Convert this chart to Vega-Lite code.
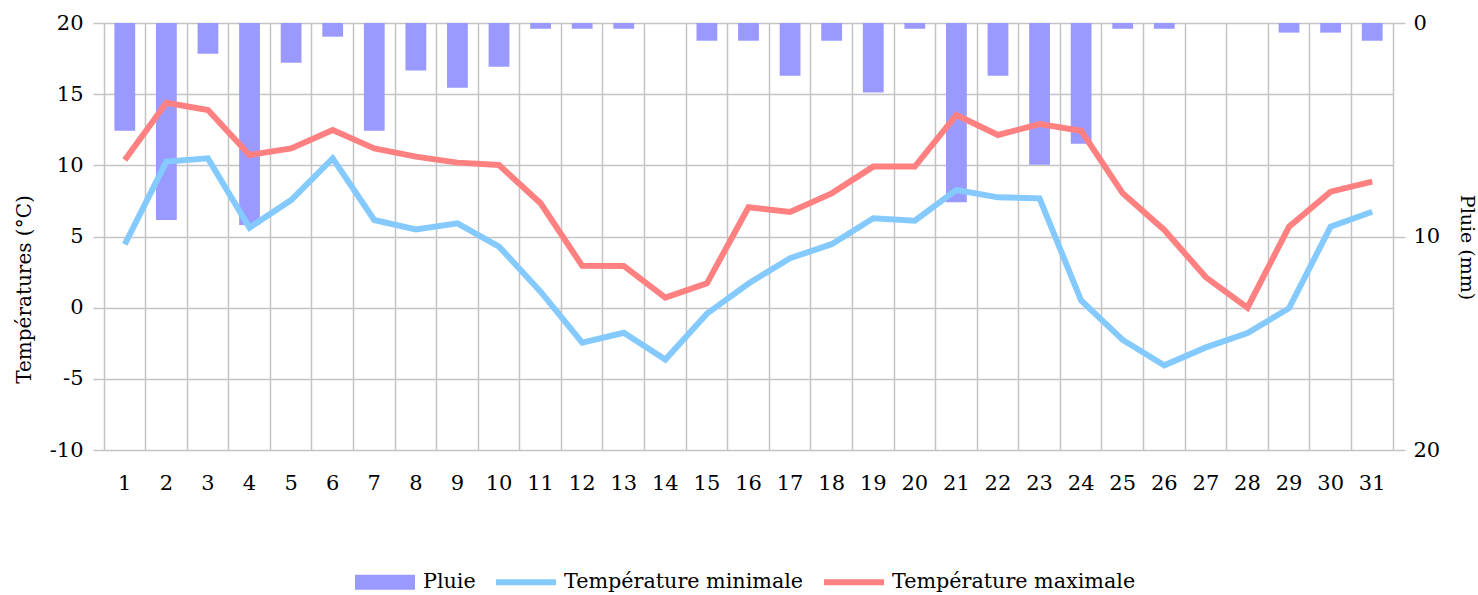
{
  "$schema": "https://vega.github.io/schema/vega-lite/v6.json",
  "width": 1289,
  "height": 427,
  "autosize": {"type": "none"},
  "padding": {"left": 104, "top": 23, "right": 85, "bottom": 145},
  "background": "white",
  "config": {
    "font": "DejaVu Serif",
    "view": {"stroke": null},
    "axis": {"labelColor": "black", "titleColor": "black", "titleFontWeight": "normal", "labelFont": "DejaVu Serif", "titleFont": "DejaVu Serif"},
    "legend": {"labelFont": "DejaVu Serif"}
  },
  "data": {
    "values": [
      {"day": 1, "pluie": 5.05, "tmin": 4.45, "tmax": 10.37},
      {"day": 2, "pluie": 9.23, "tmin": 10.26, "tmax": 14.4},
      {"day": 3, "pluie": 1.44, "tmin": 10.49, "tmax": 13.89},
      {"day": 4, "pluie": 9.46, "tmin": 5.62, "tmax": 10.73},
      {"day": 5, "pluie": 1.86, "tmin": 7.56, "tmax": 11.19},
      {"day": 6, "pluie": 0.64, "tmin": 10.49, "tmax": 12.48},
      {"day": 7, "pluie": 5.05, "tmin": 6.16, "tmax": 11.19},
      {"day": 8, "pluie": 2.23, "tmin": 5.5, "tmax": 10.61},
      {"day": 9, "pluie": 3.03, "tmin": 5.93, "tmax": 10.19},
      {"day": 10, "pluie": 2.05, "tmin": 4.29, "tmax": 10.02},
      {"day": 11, "pluie": 0.27, "tmin": 1.12, "tmax": 7.33},
      {"day": 12, "pluie": 0.27, "tmin": -2.46, "tmax": 2.94},
      {"day": 13, "pluie": 0.27, "tmin": -1.76, "tmax": 2.93},
      {"day": 14, "pluie": 0, "tmin": -3.65, "tmax": 0.7},
      {"day": 15, "pluie": 0.83, "tmin": -0.42, "tmax": 1.71},
      {"day": 16, "pluie": 0.83, "tmin": 1.7, "tmax": 7.05},
      {"day": 17, "pluie": 2.47, "tmin": 3.48, "tmax": 6.72},
      {"day": 18, "pluie": 0.83, "tmin": 4.46, "tmax": 8.03},
      {"day": 19, "pluie": 3.26, "tmin": 6.28, "tmax": 9.91},
      {"day": 20, "pluie": 0.27, "tmin": 6.11, "tmax": 9.91},
      {"day": 21, "pluie": 8.4, "tmin": 8.27, "tmax": 13.54},
      {"day": 22, "pluie": 2.47, "tmin": 7.75, "tmax": 12.13},
      {"day": 23, "pluie": 6.64, "tmin": 7.68, "tmax": 12.9},
      {"day": 24, "pluie": 5.65, "tmin": 0.5, "tmax": 12.43},
      {"day": 25, "pluie": 0.27, "tmin": -2.27, "tmax": 8.03},
      {"day": 26, "pluie": 0.27, "tmin": -4.05, "tmax": 5.46},
      {"day": 27, "pluie": 0, "tmin": -2.79, "tmax": 2.13},
      {"day": 28, "pluie": 0, "tmin": -1.78, "tmax": 0},
      {"day": 29, "pluie": 0.45, "tmin": -0.04, "tmax": 5.69},
      {"day": 30, "pluie": 0.45, "tmin": 5.69, "tmax": 8.15},
      {"day": 31, "pluie": 0.83, "tmin": 6.74, "tmax": 8.85}
    ]
  },
  "encoding": {
    "x": {
      "field": "day",
      "type": "ordinal",
      "scale": {"paddingInner": 0, "paddingOuter": 0},
      "axis": {
        "title": null,
        "labelAngle": 0,
        "labelFontSize": 21,
        "labelPadding": 33,
        "labelBaseline": "middle",
        "ticks": false,
        "domain": false,
        "grid": true,
        "bandPosition": 0,
        "gridColor": "#c4c4c4",
        "gridWidth": 1.5
      }
    }
  },
  "layer": [
    {
      "mark": {"type": "bar", "width": {"band": 0.5}},
      "encoding": {
        "y": {
          "field": "pluie",
          "type": "quantitative",
          "scale": {"domain": [0, 20], "reverse": true, "nice": false, "zero": true},
          "axis": {
            "orient": "right",
            "title": "Pluie (mm)",
            "values": [0, 10, 20],
            "grid": false,
            "domain": true,
            "domainColor": "#c4c4c4",
            "domainWidth": 1.5,
            "tickColor": "#c4c4c4",
            "tickWidth": 1.5,
            "tickSize": 12,
            "labelPadding": 8,
            "labelFontSize": 21,
            "titleFontSize": 19,
            "titleAngle": 90,
            "titleX": 73,
            "titleY": 224,
            "titleAlign": "center",
            "titleBaseline": "middle"
          }
        },
        "color": {
          "datum": "Pluie",
          "scale": {
            "domain": ["Pluie", "Température minimale", "Température maximale"],
            "range": ["#9999ff", "#84caff", "#ff8080"]
          },
          "legend": {
            "title": null,
            "orient": "none",
            "direction": "horizontal",
            "legendX": 251,
            "legendY": 529,
            "symbolSize": 3600,
            "symbolType": "M-1,-0.25H1V0.25H-1Z",
            "symbolStrokeWidth": 0,
            "labelFontSize": 20.7,
            "labelColor": "black",
            "labelOffset": 8,
            "columnPadding": 20,
            "labelLimit": 400,
            "encode": {
              "symbols": {
                "update": {
                  "shape": {"signal": "datum.label === 'Pluie' ? 'M-1,-0.25H1V0.25H-1Z' : 'M-1,-0.1H1V0.1H-1Z'"},
                  "fill": {"scale": "color", "field": "value"},
                  "stroke": {"value": "transparent"},
                  "strokeWidth": {"value": 0},
                  "opacity": {"value": 1},
                  "fillOpacity": {"value": 1}
                }
              }
            }
          }
        }
      }
    },
    {
      "layer": [
        {
          "mark": {"type": "line", "strokeWidth": 6},
          "encoding": {
            "y": {
              "field": "tmin",
              "type": "quantitative",
              "scale": {"domain": [-10, 20], "nice": false, "zero": false},
              "axis": {
                "orient": "left",
                "title": "Températures (°C)",
                "values": [-10, -7.5, -5, -2.5, 0, 2.5, 5, 7.5, 10, 12.5, 15, 17.5, 20],
                "labelExpr": "datum.value % 5 === 0 ? '' + datum.value : ''",
                "grid": true,
                "gridColor": {"condition": {"test": "datum.value % 5 === 0", "value": "#c4c4c4"}, "value": "#e4e4ff"},
                "gridWidth": 1.5,
                "domain": false,
                "tickColor": "#c4c4c4",
                "tickOpacity": {"condition": {"test": "datum.value % 5 === 0", "value": 1}, "value": 0},
                "tickWidth": 1.5,
                "tickSize": 11,
                "labelPadding": 10,
                "labelFontSize": 21,
                "titleFontSize": 20,
                "titleAngle": -90,
                "titleX": -80,
                "titleY": 266,
                "titleAlign": "center",
                "titleBaseline": "middle"
              }
            },
            "color": {"datum": "Température minimale"}
          }
        },
        {
          "mark": {"type": "line", "strokeWidth": 6},
          "encoding": {
            "y": {"field": "tmax", "type": "quantitative"},
            "color": {"datum": "Température maximale"}
          }
        }
      ]
    }
  ],
  "resolve": {"scale": {"y": "independent"}}
}
